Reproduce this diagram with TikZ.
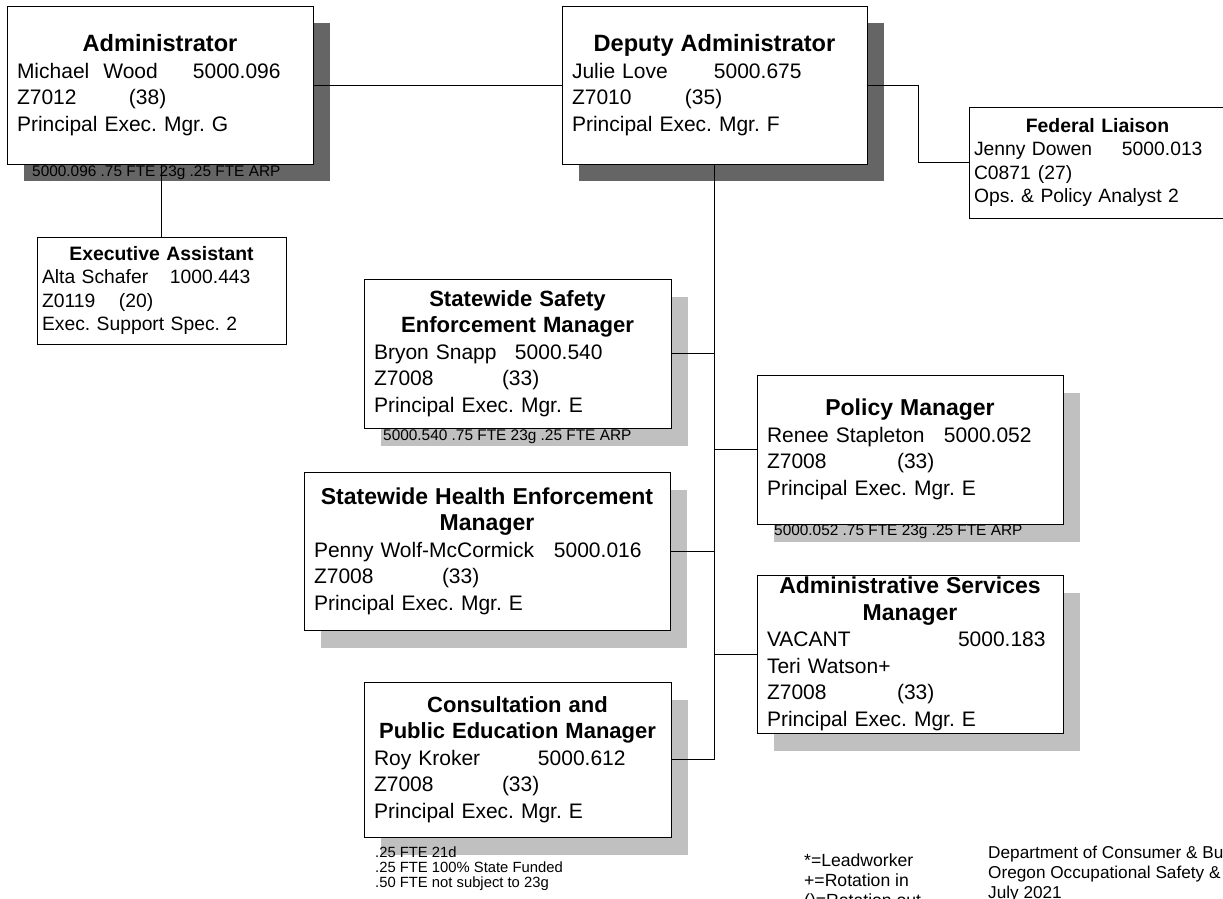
\documentclass[tikz,border=0pt]{standalone}
\usepackage{fontspec}
\setmainfont{Liberation Sans}
\usepackage{xcolor}
\usetikzlibrary{shadows}
\definecolor{shadowdark}{HTML}{656565}
\definecolor{shadowlight}{HTML}{C0C0C0}
\newcommand{\ttl}[2][23]{\makebox[\hsize]{\fontsize{#1}{26}\selectfont\bfseries #2}}
\newcommand{\cols}[3]{\makebox[#1][l]{#2}#3}
\frenchspacing

\begin{document}
\begin{tikzpicture}[x=1pt, y=-1pt,
    posbox/.style={rectangle, draw, fill=white, line width=0.9pt, inner xsep=10pt, inner ysep=2pt,
                   align=left, font=\fontsize{21}{26.5}\selectfont},
    smallbox/.style={posbox, inner xsep=5pt, font=\fontsize{19.3}{23.5}\selectfont},
    darkshadow/.style={drop shadow={shadow xshift=17pt, shadow yshift=-17pt, fill=shadowdark, opacity=1}},
    lightshadow/.style={drop shadow={shadow xshift=17pt, shadow yshift=-18pt, fill=shadowlight, opacity=1}},
    note/.style={anchor=west, inner sep=0pt, align=left, font=\fontsize{15.4}{15}\selectfont},
    link/.style={line width=0.8pt},
]
\useasboundingbox (0,0) rectangle (1223,898);
\clip (0,0) rectangle (1223,898);
\fill[white] (0,0) rectangle (1223,898);

% Top row
\node[posbox, darkshadow, text width=286pt, minimum height=158pt] (admin) at (160,85)
  {\ttl[23.6]{Administrator}\\
   \cols{176pt}{Michael\ \ Wood}{5000.096}\\
   \cols{112pt}{Z7012}{(38)}\\
   Principal Exec. Mgr. G};
\node[posbox, darkshadow, text width=285pt, minimum height=158pt] (deputy) at (714.5,85)
  {\ttl[23.6]{Deputy Administrator}\\
   \cols{142pt}{Julie Love}{5000.675}\\
   \cols{113pt}{Z7010}{(35)}\\
   Principal Exec. Mgr. F};
\node[smallbox, text width=247pt, minimum height=111pt] (fed) at (1097.5,162.5)
  {\ttl[19.4]{Federal Liaison}\\
   \cols{148pt}{Jenny Dowen}{5000.013}\\
   \cols{64pt}{C0871}{(27)}\\
   Ops. \& Policy Analyst 2};
\node[smallbox, text width=239pt, minimum height=107pt] (exec) at (161.5,290.5)
  {\ttl[19.4]{Executive Assistant}\\
   \cols{128pt}{Alta Schafer}{1000.443}\\
   \cols{77pt}{Z0119}{(20)}\\
   Exec. Support Spec. 2};

% Managers
\node[posbox, lightshadow, text width=287pt, minimum height=149pt] (safety) at (517.5,353.5)
  {\ttl[22.1]{Statewide Safety}\\
   \ttl[22.1]{Enforcement Manager}\\
   \cols{141pt}{Bryon Snapp}{5000.540}\\
   \cols{128pt}{Z7008}{(33)}\\
   Principal Exec. Mgr. E};
\node[posbox, lightshadow, text width=286pt, minimum height=149pt] (policy) at (910,449.5)
  {\ttl[23]{Policy Manager}\\
   \cols{177pt}{Renee Stapleton}{5000.052}\\
   \cols{130pt}{Z7008}{(33)}\\
   Principal Exec. Mgr. E};
\node[posbox, lightshadow, text width=346pt, minimum height=158pt] (health) at (487,551)
  {\ttl[23]{Statewide Health Enforcement}\\
   \ttl[23]{Manager}\\
   \cols{240pt}{Penny Wolf-McCormick}{5000.016}\\
   \cols{128pt}{Z7008}{(33)}\\
   Principal Exec. Mgr. E};
\node[posbox, lightshadow, text width=286pt, minimum height=158pt] (adminsvc) at (910,654)
  {\ttl[23]{Administrative Services}\\
   \ttl[23]{Manager}\\
   \cols{191pt}{VACANT}{5000.183}\\
   Teri Watson+\\
   \cols{130pt}{Z7008}{(33)}\\
   Principal Exec. Mgr. E};
\node[posbox, lightshadow, text width=287pt, minimum height=155pt] (consult) at (517.5,759.5)
  {\ttl[22]{Consultation and}\\
   \ttl[22]{Public Education Manager}\\
   \cols{164pt}{Roy Kroker}{5000.612}\\
   \cols{128pt}{Z7008}{(33)}\\
   Principal Exec. Mgr. E};

% FTE notes
\node[note] (adminfte) at (32,173) {5000.096 .75 FTE 23g .25 FTE ARP};
\node[note] (safetyfte) at (383,437) {5000.540 .75 FTE 23g .25 FTE ARP};
\node[note] (policyfte) at (774,532) {5000.052 .75 FTE 23g .25 FTE ARP};
\node[note, font=\fontsize{14.8}{15}\selectfont] (consultfte) at (375,868.7)
  {.25 FTE 21d\\.25 FTE 100\% State Funded\\.50 FTE not subject to 23g};

% Legend and footer
\node[note, font=\fontsize{17.6}{20}\selectfont] (legend) at (804,882)
  {*=Leadworker\\+=Rotation in\\()=Rotation out};
\node[note, font=\fontsize{17.2}{20}\selectfont] (dept) at (988,874)
  {Department of Consumer \& Business Services\\Oregon Occupational Safety \& Health\\July 2021};

% Connectors
\draw[link] (admin.east) -- (deputy.west);
\draw[link] (admin.south -| exec.north) -- (exec.north);
\draw[link] (deputy.east) -- ++(51,0) |- (fed.west);
\draw[link] (deputy.south) -- (deputy.south |- consult.east);
\draw[link] (safety.east) -- (safety.east -| deputy.south);
\draw[link] (policy.west) -- (policy.west -| deputy.south);
\draw[link] (health.east) -- (health.east -| deputy.south);
\draw[link] (adminsvc.west) -- (adminsvc.west -| deputy.south);
\draw[link] (consult.east) -- (consult.east -| deputy.south);
\end{tikzpicture}
\end{document}
